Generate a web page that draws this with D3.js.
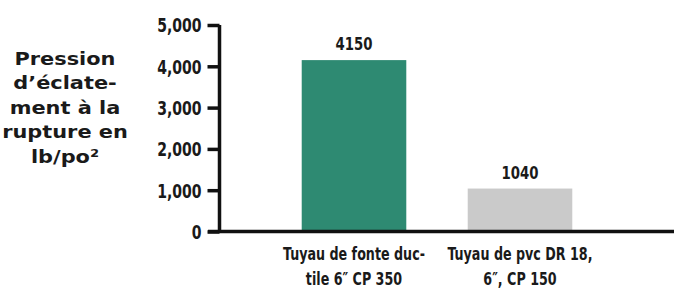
<!DOCTYPE html>
<html><head><meta charset="utf-8">
<script src="https://cdn.jsdelivr.net/npm/d3@7"></script>
<style>
html,body{margin:0;padding:0;background:#fff;}
svg{display:block;}
</style></head>
<body>
<svg id="chart" width="674" height="290"></svg>
<script>
const categories = ["Tuyau de fonte ductile 6\u2033 CP 350", "Tuyau de pvc DR 18, 6\u2033, CP 150"];
const categoryLines = [["Tuyau de fonte duc-", "tile 6\u2033 CP 350"], ["Tuyau de pvc DR 18,", "6\u2033, CP 150"]];
const values = [4150, 1040];
const barColors = ["#2e8a72", "#cacaca"];
const yTicks = [0, 1000, 2000, 3000, 4000, 5000];
const titleLines = ["Pression", "d\u2019\u00e9clate-", "ment \u00e0 la", "rupture en", "lb/po\u00b2"];

const narrow = "'DejaVu Sans Condensed','DejaVu Sans',sans-serif";
const svg = d3.select("#chart");

const y = d3.scaleLinear().domain([0, 5000]).range([231.5, 25]);
const x = d3.scaleBand().domain(categories).range([271, 603]).paddingInner(0.37).paddingOuter(0.185);

// adjust the horizontal width of text proportionally to its natural length
function squeeze(sel, factor) {
  sel.each(function () {
    const w = this.getComputedTextLength();
    d3.select(this).attr("textLength", w * factor).attr("lengthAdjust", "spacingAndGlyphs");
  });
}

// bars
svg.selectAll("rect.bar").data(values).join("rect")
  .attr("class", "bar")
  .attr("x", (d, i) => x(categories[i]))
  .attr("width", x.bandwidth())
  .attr("y", d => y(d))
  .attr("height", d => y(0) - y(d))
  .attr("fill", (d, i) => barColors[i]);

// value labels
svg.selectAll("text.val").data(values).join("text")
  .attr("class", "val")
  .attr("x", (d, i) => x(categories[i]) + x.bandwidth() / 2)
  .attr("y", d => y(d) - 10)
  .attr("text-anchor", "middle")
  .style("font-family", narrow).style("font-weight", "bold").style("font-size", "18px")
  .attr("fill", "#1a1a1a")
  .text(d => d)
  .call(squeeze, 0.82);

// y axis
const yAxis = d3.axisLeft(y).tickValues(yTicks).tickSize(12).tickPadding(6)
  .tickFormat(d3.format(","));
const gy = svg.append("g").attr("transform", "translate(219.5,0)").call(yAxis);
gy.select(".domain").attr("stroke", "#111").attr("stroke-width", 3.5).attr("d", `M0,${y(5000)}V${y(0)}`);
gy.selectAll(".tick line").attr("stroke", "#111").attr("stroke-width", 3.5);
gy.selectAll(".tick text")
  .style("font-family", narrow).style("font-weight", "bold").style("font-size", "19px")
  .attr("fill", "#1a1a1a").attr("dy", "0.36em")
  .call(squeeze, 0.82);

// baseline
svg.append("line").attr("x1", 208).attr("x2", 674).attr("y1", y(0)).attr("y2", y(0))
  .attr("stroke", "#111").attr("stroke-width", 3.5);

// category labels
categoryLines.forEach((lines, i) => {
  const t = svg.append("text")
    .attr("text-anchor", "middle")
    .style("font-family", narrow).style("font-weight", "bold").style("font-size", "17px")
    .attr("fill", "#1a1a1a");
  lines.forEach((ln, j) => {
    t.append("tspan").attr("x", x(categories[i]) + x.bandwidth() / 2)
      .attr("y", 260 + j * 25).text(ln);
  });
  t.selectAll("tspan").call(squeeze, 0.83);
});

// title (widened horizontally)
const tg = svg.append("g").attr("transform", "translate(65,0) scale(1.16,1)");
const tt = tg.append("text").attr("text-anchor", "middle")
  .style("font-family", "'DejaVu Sans',sans-serif").style("font-weight", "bold").style("font-size", "18px")
  .attr("fill", "#1a1a1a");
titleLines.forEach((ln, j) => {
  tt.append("tspan").attr("x", 0).attr("y", 65 + j * 24.5).text(ln);
});
</script>
</body></html>
